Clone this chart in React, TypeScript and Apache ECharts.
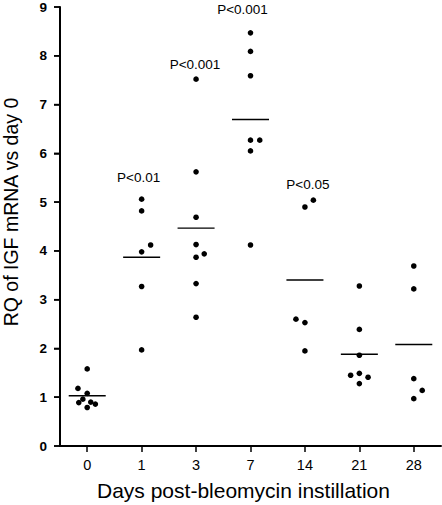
import React, { useEffect, useRef } from "react";
import * as echarts from "echarts";

const categories = ["0", "1", "3", "7", "14", "21", "28"];

const day0Values = [1.58, 1.18, 1.08, 0.96, 0.89, 0.9, 0.86, 0.79];
const day0Jitter = [0, -0.17, 0, -0.08, -0.155, 0.065, 0.15, 0];
const day1Values = [5.06, 4.82, 4.12, 3.98, 3.27, 1.97];
const day1Jitter = [0, 0, 0.165, 0, 0, 0];
const day3Values = [7.52, 5.62, 4.69, 4.13, 3.94, 3.87, 3.33, 2.64];
const day3Jitter = [0, 0, 0, 0, 0.15, 0, 0, 0];
const day7Values = [8.47, 8.09, 7.59, 6.27, 6.27, 6.05, 4.12];
const day7Jitter = [0, 0, 0, 0, 0.17, 0, 0];
const day14Values = [5.04, 4.9, 2.6, 2.53, 1.95];
const day14Jitter = [0.155, 0, -0.165, 0, 0];
const day21Values = [3.28, 2.39, 1.86, 1.45, 1.49, 1.41, 1.28];
const day21Jitter = [0, 0, 0, -0.16, 0, 0.16, 0];
const day28Values = [3.69, 3.22, 1.38, 1.14, 0.97];
const day28Jitter = [0, 0, 0, 0.155, 0];

const pLabels = ["P<0.01", "P<0.001", "P<0.001", "P<0.05"];
const pCategoryIndex = [1, 2, 3, 4];
const pY = [5.5, 7.83, 8.95, 5.36];
const pShift = [-0.055, -0.02, -0.147, 0.055];

const yTicks = [0, 1, 2, 3, 4, 5, 6, 7, 8, 9];

const xTitle = "Days post-bleomycin instillation";
const yTitle = "RQ of IGF mRNA vs day 0";

const FONT = "'Liberation Sans', Arial, Helvetica, sans-serif";

export default function App() {
  const ref = useRef<HTMLDivElement>(null);

  useEffect(() => {
    if (!ref.current) return;
    const chart = echarts.init(ref.current, null, { renderer: "svg" });

    const groups = [
      [day0Values, day0Jitter],
      [day1Values, day1Jitter],
      [day3Values, day3Jitter],
      [day7Values, day7Jitter],
      [day14Values, day14Jitter],
      [day21Values, day21Jitter],
      [day28Values, day28Jitter],
    ];

    const points: number[][] = [];
    const means: number[][] = [];
    groups.forEach(([vals, jit], i) => {
      vals.forEach((v, k) => points.push([i, v, jit[k]]));
      const m = vals.reduce((a, b) => a + b, 0) / vals.length;
      means.push([i, m]);
    });

    const pData = pLabels.map((t, k) => ({
      value: [pCategoryIndex[k], pY[k], pShift[k]],
      name: t,
    }));

    chart.setOption({
      animation: false,
      grid: { left: 60, right: 1, top: 7, bottom: 59 },
      xAxis: {
        type: "category",
        data: categories,
        boundaryGap: true,
        axisLine: { show: true, lineStyle: { color: "#000", width: 2 } },
        axisTick: { show: true, alignWithLabel: true, length: 6, lineStyle: { color: "#000", width: 1.5 } },
        axisLabel: { color: "#000", fontSize: 14.5, fontFamily: FONT, margin: 11 },
        splitLine: { show: false },
      },
      yAxis: {
        type: "value",
        min: 0,
        max: 9,
        interval: 1,
        position: "left",
        axisLine: { show: true, onZero: false, lineStyle: { color: "#000", width: 2 } },
        axisTick: { show: true, length: 6, lineStyle: { color: "#000", width: 1.5 } },
        axisLabel: {
          color: "#000",
          fontSize: 13.5,
          fontWeight: "bold",
          fontFamily: FONT,
          margin: 13,
        },
        splitLine: { show: false },
      },
      series: [
        {
          type: "custom",
          data: yTicks.map((t) => [0, t]),
          encode: { x: 0, y: 1 },
          silent: true,
          clip: false,
          z: 5,
          renderItem: (params: any, api: any) => {
            const cs = params.coordSys;
            const y = api.coord([0, api.value(1)])[1];
            const children: any[] = [
              {
                type: "line",
                shape: { x1: cs.x - 6, y1: y, x2: cs.x, y2: y },
                style: { stroke: "#000", lineWidth: 1.5 },
              },
            ];
            if (params.dataIndex === 0) {
              children.push({
                type: "line",
                shape: { x1: cs.x, y1: cs.y, x2: cs.x, y2: cs.y + cs.height + 1 },
                style: { stroke: "#000", lineWidth: 2 },
              });
            }
            return { type: "group", children };
          },
        },
        {
          type: "custom",
          data: points,
          encode: { x: 0, y: 1 },
          silent: true,
          renderItem: (params: any, api: any) => {
            const c = api.coord([api.value(0), api.value(1)]);
            const band = api.size([1, 0])[0];
            return {
              type: "circle",
              shape: { cx: c[0] + api.value(2) * band, cy: c[1], r: 2.8 },
              style: { fill: "#000" },
            };
          },
        },
        {
          type: "custom",
          data: means,
          encode: { x: 0, y: 1 },
          silent: true,
          renderItem: (params: any, api: any) => {
            const c = api.coord([api.value(0), api.value(1)]);
            const band = api.size([1, 0])[0];
            const half = band * 0.34;
            return {
              type: "line",
              shape: { x1: c[0] - half, y1: c[1], x2: c[0] + half, y2: c[1] },
              style: { stroke: "#000", lineWidth: 1.4 },
            };
          },
        },
        {
          type: "custom",
          data: pData,
          encode: { x: 0, y: 1 },
          silent: true,
          clip: false,
          renderItem: (params: any, api: any) => {
            const c = api.coord([api.value(0), api.value(1)]);
            const band = api.size([1, 0])[0];
            return {
              type: "text",
              x: c[0] + api.value(2) * band,
              y: c[1],
              style: {
                text: pLabels[params.dataIndex],
                fontSize: 13.5,
                fontFamily: FONT,
                fill: "#000",
                textAlign: "center",
                textVerticalAlign: "middle",
              },
            };
          },
        },
      ],
      graphic: [
        {
          type: "text",
          x: 243.5,
          y: 490,
          style: {
            text: xTitle,
            fontSize: 21,
            fontFamily: FONT,
            fill: "#000",
            textAlign: "center",
            textVerticalAlign: "middle",
          },
        },
        {
          type: "text",
          x: 10.5,
          y: 212,
          rotation: Math.PI / 2,
          style: {
            text: yTitle,
            fontSize: 19.5,
            fontFamily: FONT,
            fill: "#000",
            textAlign: "center",
            textVerticalAlign: "middle",
          },
        },
      ],
    });

    return () => chart.dispose();
  }, []);

  return (
    <div
      ref={ref}
      style={{ position: "fixed", left: 0, top: 0, width: 442, height: 505, background: "#fff" }}
    />
  );
}
